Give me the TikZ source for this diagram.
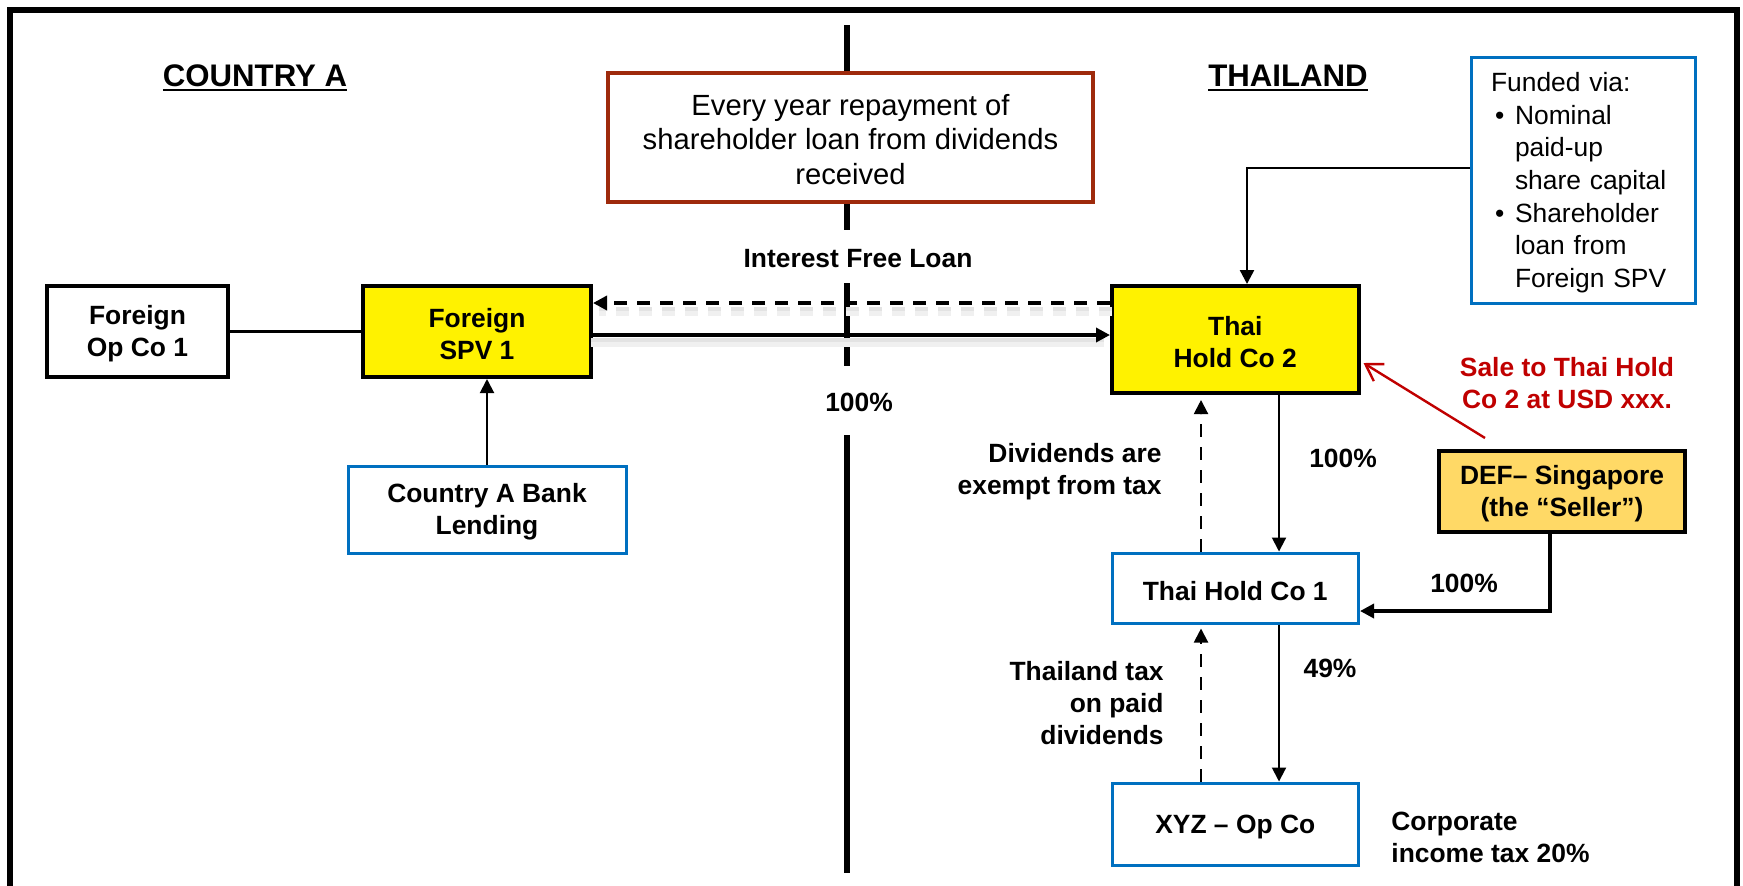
\documentclass[tikz,border=0pt]{standalone}
\usepackage{fontspec}
\setmainfont{Liberation Sans}
\usetikzlibrary{arrows.meta,calc}
\definecolor{myblue}{HTML}{0070C0}
\definecolor{boxred}{HTML}{9E2A0C}
\definecolor{salered}{HTML}{C00000}
\definecolor{defora}{HTML}{FFD966}
\newcommand\myul[1]{\setbox0\hbox{#1}\rlap{\rule[-2.5pt]{\wd0}{1.3pt}}\box0}
\newcommand\tup{\rule{0pt}{12.2pt}}
\begin{document}
\begin{tikzpicture}[x=0.5pt,y=-0.5pt,
  every node/.style={font=\fontsize{13.2}{16}\selectfont\bfseries, inner sep=0pt},
  ybox/.style={draw=black, line width=2pt, fill=yellow, align=center},
  wbox/.style={draw=black, line width=2pt, fill=white, align=center},
  bbox/.style={draw=myblue, line width=1.5pt, fill=white, align=center},
  obox/.style={draw=black, line width=2pt, fill=defora, align=center},
  rbox/.style={draw=boxred, line width=2pt, fill=white, align=center,
    font=\fontsize{14.6}{17.25}\selectfont},
  head/.style={font=\fontsize{15.6}{18}\selectfont\bfseries},
  arr/.style={-{Triangle[length=7pt,width=7pt]}},
  thinline/.style={line width=1pt},
  thickline/.style={line width=1.7pt},
  dashline/.style={dash pattern=on 6.5pt off 5pt},
  shadowwide/.style={draw=black!6, line width=4.5pt},
  shadownarrow/.style={draw=black!11, line width=2pt},
  redarr/.style={draw=salered, line width=1.2pt,
    -{Straight Barb[length=8pt,width=10pt,line width=1.2pt]}},
  divider/.style={line width=3pt}
]
\useasboundingbox (0,0) rectangle (1743,885);

% frame
\draw[line width=2.6pt] (10,890) -- (10,10) -- (1737,10) -- (1737,890);

% shadows of the loan arrows (drawn first, under everything)
\coordinate (dA) at (1112,303);
\coordinate (sA) at (591,335);

% divider between countries
\draw[divider] (847,25) -- (847,230);
\draw[divider] (847,283) -- (847,366);
\draw[divider] (847,435) -- (847,873);

% headings
\node[head] (ca) at (255,78) {\myul{COUNTRY A}};
\node[head] (th) at (1288,78) {\myul{THAILAND}};

% boxes
\node[rbox, minimum width=242.5pt, minimum height=64.5pt] (repay) at (850.5,137.5)
  {\tup Every year repayment of\\ shareholder loan from dividends\\ received};
\node[wbox, minimum width=90.5pt, minimum height=45.5pt] (opco1) at (137.5,331.5) {\tup Foreign\\ Op Co 1};
\node[ybox, minimum width=114pt, minimum height=45.5pt] (spv1) at (477,331.5) {\tup Foreign\\ SPV 1};
\node[bbox, minimum width=139pt, minimum height=43.5pt] (bank) at (487,509.5) {\tup Country A Bank\\ Lending};
\node[ybox, minimum width=123.25pt, minimum height=53.5pt] (th2) at (1235.25,339.5) {\tup Thai\\ Hold Co 2};
\node[bbox, minimum width=112pt, minimum height=123pt, text width=92pt, inner xsep=10pt,
  align=left, font=\fontsize{13.2}{16.3}\selectfont] (funded) at (1583,180)
  {\tup Funded via:\\
   \makebox[12pt][l]{\hspace{2pt}\textbullet}Nominal\\
   \hspace*{12pt}paid-up\\
   \hspace*{12pt}share capital\\
   \makebox[12pt][l]{\hspace{2pt}\textbullet}Shareholder\\
   \hspace*{12pt}loan from\\
   \hspace*{12pt}Foreign SPV};
\node[bbox, minimum width=123.25pt, minimum height=35pt] (th1) at (1235.25,588) {\tup Thai Hold Co 1};
\node[obox, minimum width=123.25pt, minimum height=40.5pt] (def) at (1562,491.5) {\tup DEF– Singapore\\ (the “Seller”)};
\node[bbox, minimum width=123.25pt, minimum height=41pt] (xyz) at (1235.25,824) {\tup XYZ – Op Co};

% labels
\node (ifl) at (858,259) {Interest Free Loan};
\node (p100a) at (859,402) {100\%};
\node[anchor=east, align=right] (divex) at (1162,469) {\tup Dividends are\\ exempt from tax};
\node (p100b) at (1343,458) {100\%};
\node (p100c) at (1464,583) {100\%};
\node[align=center, text=salered] (sale) at (1567,380.5) {\tup Sale to Thai Hold\\ Co 2 at USD xxx.};
\node[anchor=east, align=right] (thtax) at (1164,700.5) {\tup Thailand tax\\ on paid\\ dividends};
\node (p49) at (1330,668) {49\%};
\node[anchor=west, align=left] (corp) at (1391,834.5) {\tup Corporate\\ income tax 20\%};

% connectors
\draw[line width=1.5pt] (opco1) -- (spv1);

\draw[shadowwide, dashline] ($(dA)+(0,8)$) -- ($(dA -| spv1.east)+(6,8)$);
\draw[shadownarrow, dashline] ($(dA)+(0,6)$) -- ($(dA -| spv1.east)+(6,6)$);
\draw[shadowwide] ($(sA)+(0,7)$) -- ($(sA -| th2.west)+(-6,7)$);
\draw[shadownarrow] ($(sA)+(0,5)$) -- ($(sA -| th2.west)+(-6,5)$);
\draw[thickline, dashline, arr] (dA -| th2.west) -- (dA -| spv1.east);
\draw[thickline, arr] (sA -| spv1.east) -- (sA -| th2.west);

\draw[thinline, arr] (bank.north) -- (bank.north |- spv1.south);

\coordinate (fA) at ($(funded.west)+(0,-12)$);
\draw[line width=1.2pt, arr] (fA) -| ($(th2.north)+(11.75,0)$);

\draw[thinline, arr] ($(th2.south)+(43.75,0)$) -- ($(th1.north)+(43.75,0)$);
\draw[thinline, dashline, arr, shorten >=2.5pt] ($(th1.north)+(-34.25,0)$) -- ($(th2.south)+(-34.25,0)$);
\draw[thinline, arr] ($(th1.south)+(43.75,0)$) -- ($(xyz.north)+(43.75,0)$);
\draw[thinline, dashline, arr, shorten >=2pt] ($(xyz.north)+(-34.25,0)$) -- ($(th1.south)+(-34.25,0)$);

\draw[thickline, arr] ($(def.south)+(-12,0)$) |- ($(th1.east)+(0,23)$);

\draw[redarr] ($(def.north)+(-77,-11)$) -- ($(th2.east)+(3,23.5)$);
\end{tikzpicture}
\end{document}
